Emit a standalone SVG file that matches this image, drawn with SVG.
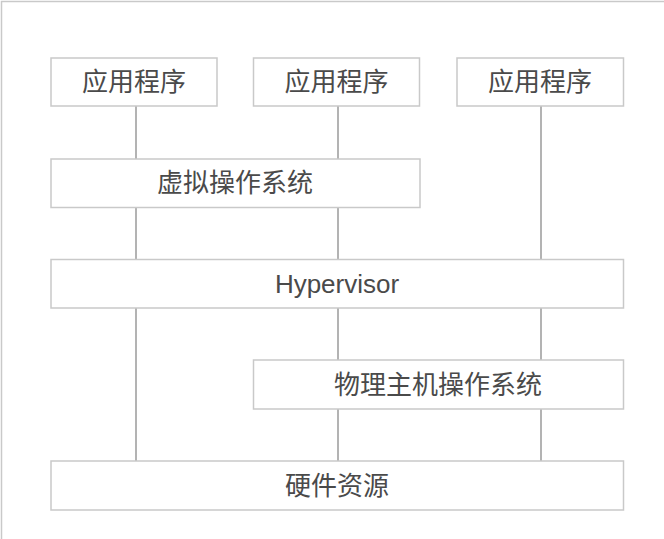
<svg xmlns="http://www.w3.org/2000/svg" width="664" height="539" viewBox="0 0 664 539">
<style>
.box{fill:#fff;stroke:#c9c9c9;stroke-width:1.5}
.lbl{font-family:"Liberation Sans","Noto Sans CJK SC",sans-serif;font-size:26px;fill:#4a4a4a;text-anchor:middle}
.con line{stroke:#9a9a9a;stroke-width:1.5}
</style>
<rect width="664" height="539" fill="#fff"/>
<path d="M1.5 539 V1.5 H664" fill="none" stroke="#c9c9c9" stroke-width="1.5"/>
<g class="con" id="connectors">
<line x1="136" y1="106" x2="136" y2="159"/>
<line x1="136" y1="208" x2="136" y2="259"/>
<line x1="136" y1="308" x2="136" y2="461"/>
<line x1="338" y1="106" x2="338" y2="159"/>
<line x1="338" y1="208" x2="338" y2="259"/>
<line x1="338" y1="308" x2="338" y2="360"/>
<line x1="338" y1="409" x2="338" y2="461"/>
<line x1="541" y1="106" x2="541" y2="259"/>
<line x1="541" y1="308" x2="541" y2="360"/>
<line x1="541" y1="409" x2="541" y2="461"/>
</g>
<g id="app1"><rect class="box" x="51" y="58" width="166" height="48"/><text class="lbl" x="134" y="91">应用程序</text></g>
<g id="app2"><rect class="box" x="253.5" y="58" width="166" height="48"/><text class="lbl" x="336.5" y="91">应用程序</text></g>
<g id="app3"><rect class="box" x="457" y="58" width="166.5" height="48"/><text class="lbl" x="540" y="91">应用程序</text></g>
<g id="guestos"><rect class="box" x="51" y="159" width="369" height="48.5"/><text class="lbl" x="235" y="192">虚拟操作系统</text></g>
<g id="hypervisor"><rect class="box" x="51" y="259.5" width="572.5" height="48.5"/><text class="lbl" x="337" y="293">Hypervisor</text></g>
<g id="hostos"><rect class="box" x="253.5" y="360" width="370" height="49"/><text class="lbl" x="438" y="394">物理主机操作系统</text></g>
<g id="hardware"><rect class="box" x="51" y="461" width="572.5" height="49"/><text class="lbl" x="337" y="495">硬件资源</text></g>
</svg>
